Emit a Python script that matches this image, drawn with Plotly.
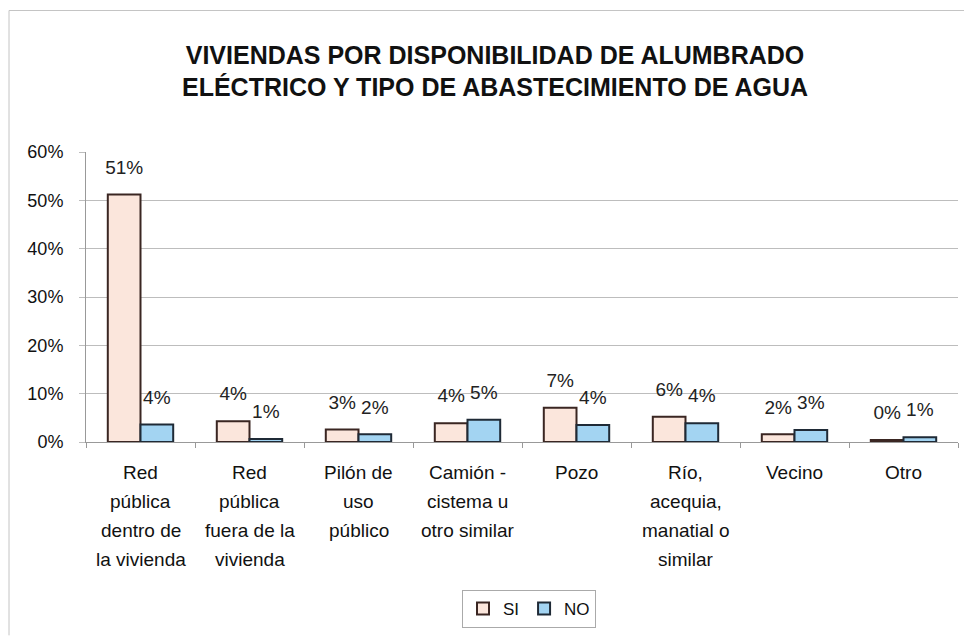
import plotly.graph_objects as go

categories = ["Red pública dentro de la vivienda", "Red pública fuera de la vivienda",
              "Pilón de uso público", "Camión - cistema u otro similar", "Pozo",
              "Río, acequia, manatial o similar", "Vecino", "Otro"]
category_lines = [["Red", "pública", "dentro de", "la vivienda"],
                  ["Red", "pública", "fuera de la", "vivienda"],
                  ["Pilón de", "uso", "público"],
                  ["Camión -", "cistema u", "otro similar"],
                  ["Pozo"],
                  ["Río,", "acequia,", "manatial o", "similar"],
                  ["Vecino"],
                  ["Otro"]]
si_values = [0.512, 0.043, 0.026, 0.039, 0.071, 0.052, 0.016, 0.004]
no_values = [0.036, 0.006, 0.016, 0.046, 0.035, 0.039, 0.025, 0.010]
si_labels = ["51%", "4%", "3%", "4%", "7%", "6%", "2%", "0%"]
no_labels = ["4%", "1%", "2%", "5%", "4%", "4%", "3%", "1%"]
y_ticks = [0, 0.1, 0.2, 0.3, 0.4, 0.5, 0.6]
y_tick_labels = ["0%", "10%", "20%", "30%", "40%", "50%", "60%"]

FONT = "Liberation Sans, Arial, sans-serif"
W, H = 964, 631
L, R, T, B = 78, 14, 144, 196
PW, PH = W - L - R, H - T - B

fig = go.Figure()
fig.add_trace(go.Bar(name="SI", x=categories, y=si_values,
                     marker=dict(color="#FBE6DC", line=dict(color="#3a2622", width=2))))
fig.add_trace(go.Bar(name="NO", x=categories, y=no_values,
                     marker=dict(color="#A3D4F2", line=dict(color="#1f2a36", width=2))))
# value labels, grouped like the bars
for vals, labs in ((si_values, si_labels), (no_values, no_labels)):
    fig.add_trace(go.Scatter(x=categories, y=vals, text=labs, mode="markers+text",
                             textposition="top center", cliponaxis=False,
                             marker=dict(size=24, opacity=0), showlegend=False,
                             hoverinfo="skip",
                             textfont=dict(size=19, color="#222", family=FONT)))

for cat, lines in zip(categories, category_lines):
    for i, line in enumerate(lines):
        fig.add_annotation(x=cat, xref="x", y=0, yref="paper", yanchor="middle",
                           yshift=-30 - 29 * i, text=line, showarrow=False,
                           font=dict(size=19, color="#111", family=FONT))

fig.update_layout(
    width=W, height=H,
    margin=dict(l=L, r=R, t=T, b=B),
    paper_bgcolor="white", plot_bgcolor="white",
    font=dict(family=FONT, color="#111"),
    title=dict(text="<b>VIVIENDAS POR DISPONIBILIDAD DE ALUMBRADO<br>ELÉCTRICO Y TIPO DE ABASTECIMIENTO DE AGUA</b>",
               x=487 / W, xanchor="center", y=1 - 55.5 / H, yanchor="middle", yref="container",
               font=dict(size=25, color="#111", family=FONT)),
    barmode="group", bargap=0.4, bargroupgap=0,
    scattermode="group", scattergap=0.4,
    showlegend=True,
    legend=dict(orientation="h", x=(521 - L) / PW, xanchor="center",
                y=(T + PH - 601) / PH, yanchor="middle",
                bordercolor="#aaa", borderwidth=1, font=dict(size=17),
                itemwidth=30, tracegroupgap=0),
    xaxis=dict(showticklabels=False, showline=True, linecolor="#999", linewidth=1,
               ticks="outside", ticklen=5, tickcolor="#999", tickson="boundaries",
               showgrid=False),
    yaxis=dict(range=[0, 0.6], tickvals=y_ticks, ticktext=y_tick_labels,
               showgrid=True, gridcolor="#bdbdbd", gridwidth=1,
               showline=True, linecolor="#999", linewidth=1,
               ticks="outside", ticklen=6, tickcolor="#bdbdbd", ticklabelstandoff=12,
               tickfont=dict(size=18, color="#111"), zeroline=False),
    shapes=[dict(type="line", xref="paper", yref="paper",
                 x0=(1 - L) / PW, x1=(1 - L) / PW, y0=-(B - 2) / PH, y1=1 + (T - 2) / PH,
                 line=dict(color="#c4c4c4", width=1)),
            dict(type="line", xref="paper", yref="paper",
                 x0=(1 - L) / PW, x1=1 + R / PW, y0=1 + (T - 2) / PH, y1=1 + (T - 2) / PH,
                 line=dict(color="#c4c4c4", width=1))],
)

fig.write_html("out.html")
